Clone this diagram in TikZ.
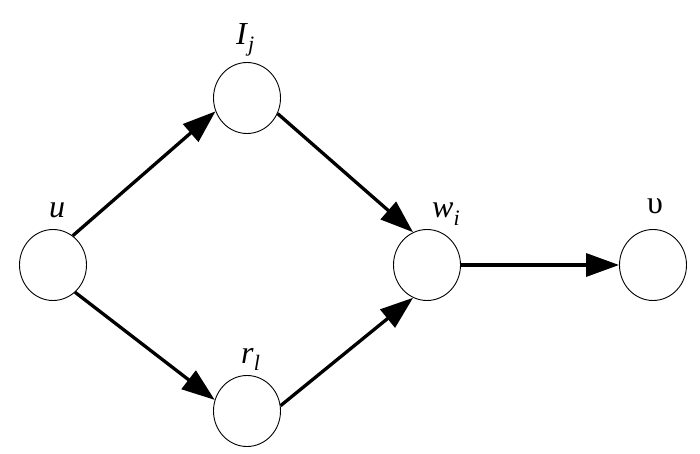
\documentclass[tikz,border=0pt]{standalone}
\usepackage{fontspec}
\setmainfont{Liberation Serif}
\usetikzlibrary{arrows.meta,shapes.geometric}
\newcommand{\lbltext}[2]{\textit{#1}\raisebox{-7pt}{\fontsize{22pt}{22pt}\selectfont\textit{#2}}}
\tikzset{
  vert/.style={ellipse,draw=black,line width=0.9pt,minimum width=67pt,minimum height=71pt,inner sep=0pt},
  arr/.style={line width=3.3pt,-{Triangle[length=33pt,width=23pt]}},
  lbl/.style={anchor=base west,inner sep=0pt,font=\fontsize{32pt}{32pt}\selectfont}
}
\begin{document}
\begin{tikzpicture}[x=1pt,y=-1pt]
\useasboundingbox (0,0) rectangle (700,454);
\node[vert] (u) at (53,265) {};
\node[vert] (I) at (247,98) {};
\node[vert] (w) at (427,265) {};
\node[vert] (r) at (247,411) {};
\node[vert] (v) at (653,265) {};
\node[lbl] (lu) at (49,217) {\textit{u}};
\node[lbl] (lI) at (236,45) {\lbltext{I}{j}};
\node[lbl] (lw) at (432,218) {\lbltext{w}{i}};
\node[lbl] (lr) at (241,363) {\lbltext{r}{l}};
\node[lbl,anchor=base] (lv) at (655,213) {υ};
\draw[arr] (u.56) -- (I.203);
\draw[arr] (u.-51) -- (r.161);
\draw[arr] (I.-27) -- (w.113);
\draw[arr] (r.9) -- (w.247);
\draw[arr] (w.east) -- (v.west);
\end{tikzpicture}
\end{document}
